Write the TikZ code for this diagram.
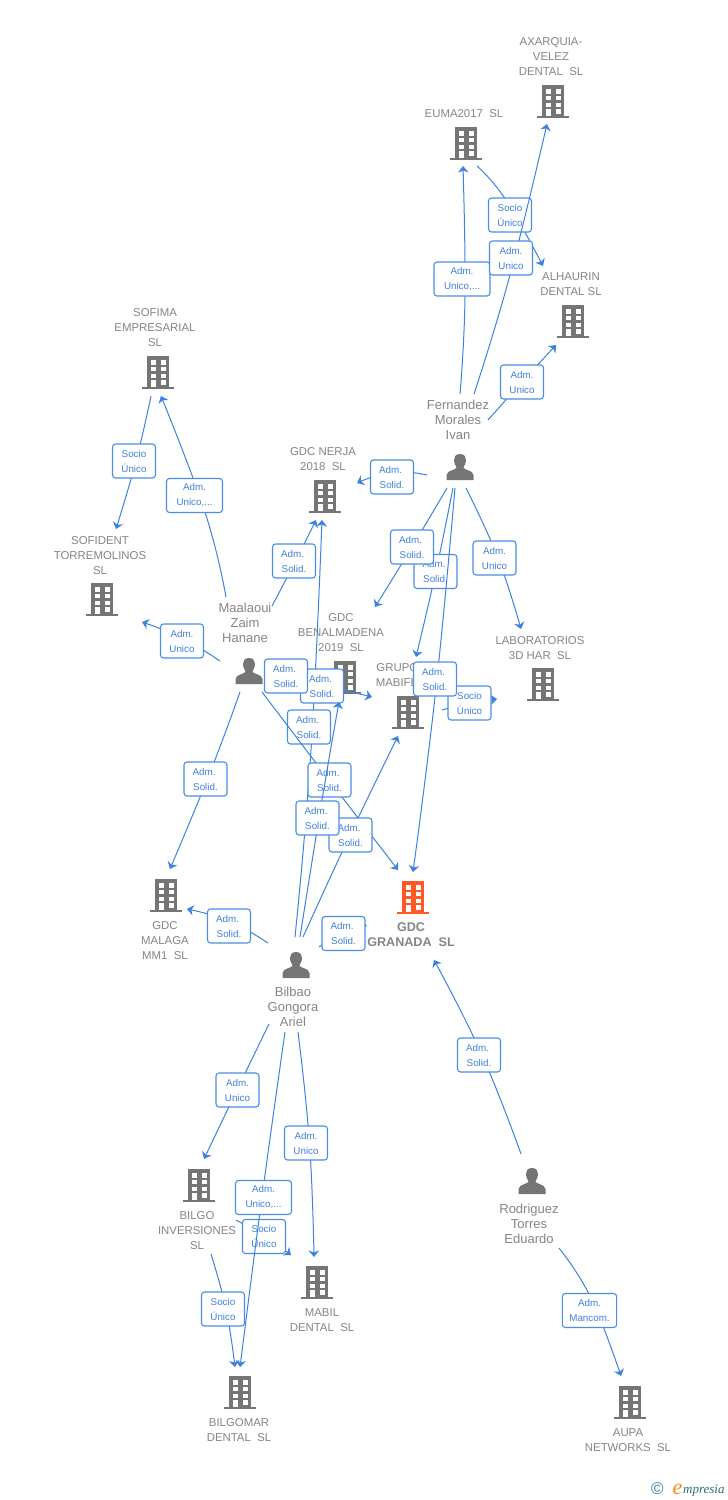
\documentclass[tikz,border=0pt]{standalone}
\usepackage{fontspec}
\setmainfont{Liberation Sans}
\newfontfamily\logofont{Liberation Serif}
\usetikzlibrary{arrows.meta,calc}
\definecolor{edgeblue}{HTML}{3D82E3}
\definecolor{boxblue}{HTML}{4A8CE6}
\definecolor{labblue}{HTML}{3F80DE}
\definecolor{icongray}{HTML}{757575}
\definecolor{txtgray}{HTML}{858585}
\definecolor{hotorange}{HTML}{FF5A26}
\definecolor{logoteal}{HTML}{3F7C96}
\definecolor{logodark}{HTML}{2F6B80}
\definecolor{logoorange}{HTML}{F58A1F}
\tikzset{
  edgeline/.style={draw=edgeblue,line width=1pt,-{Stealth[length=6.5pt,width=10.5pt,inset=2pt]}},
  lab/.style={draw=boxblue,line width=1.1pt,fill=white,rounded corners=3pt,text=labblue,align=center,
    font=\fontsize{9.8}{15}\selectfont,inner xsep=5pt,inner ysep=0pt,minimum width=43pt,minimum height=34pt},
  bname/.style={text=txtgray,align=center,inner sep=0pt,font=\fontsize{11.4}{15}\selectfont},
  pname/.style={text=txtgray,align=center,inner sep=0pt,font=\fontsize{13}{15}\selectfont},
  hname/.style={text=txtgray,align=center,inner sep=0pt,font=\fontsize{12.6}{15}\selectfont\bfseries},
  iconbox/.style={inner sep=0pt,minimum width=32pt,minimum height=33pt}
}
\newcommand{\AS}{Adm.\hspace*{2.8pt}\\Solid.}
\newcommand{\AU}{Adm.\\Unico}
\newcommand{\AUX}{Adm.\\\hspace*{5pt}Unico,...\hspace*{5pt}}
\newcommand{\SU}{Socio\\Único}
% name, x, y, colour
\newcommand{\bldg}[4]{%
  \node[iconbox] (#1) at (#2,#3) {};
  \begin{scope}[shift={(#2,#3)}]
    \fill[#4] (-11,-17) rectangle (11,13.5);
    \fill[#4] (-16,13.5) rectangle (16,16);
    \foreach \wy in {-13,-6.3,0.5}{
      \fill[white] (-6.7,\wy) rectangle (-1.7,\wy+4.5);
      \fill[white] (2.5,\wy) rectangle (7.5,\wy+4.5);
    }
    \fill[white] (-6.7,7) rectangle (-1.7,13.5);
    \fill[white] (2.5,7) rectangle (7.5,11.5);
  \end{scope}}
% name, x, y
\newcommand{\pers}[3]{%
  \node[iconbox,minimum width=28pt,minimum height=28pt] (#1) at (#2,#3) {};
  \begin{scope}[shift={(#2,#3)}]
    \fill[icongray] (0,-13) .. controls (4.5,-13) and (6,-10) .. (6,-7) .. controls (6,-3.5) and (4,-1) .. (3.5,0.5)
      .. controls (3.5,3) and (13,3) .. (13.5,8) -- (13.5,13) -- (-13.5,13) -- (-13.5,8)
      .. controls (-13,3) and (-3.5,3) .. (-3.5,0.5) .. controls (-4,-1) and (-6,-3.5) .. (-6,-7)
      .. controls (-6,-10) and (-4.5,-13) .. (0,-13) -- cycle;
  \end{scope}}
% src, offset, tgt, offset, via, label centre, text
\newcommand{\conn}[7]{%
  \coordinate (#1-#3-s) at ([shift={(#2)}]#1.center);
  \coordinate (#1-#3-e) at ([shift={(#4)}]#3.center);
  \coordinate (#1-#3-v) at (#5);
  \draw[edgeline] plot[smooth,tension=0.75] coordinates {(#1-#3-s) (#1-#3-v) (#1-#3-e)};
  \node[lab] (#1-#3-l) at (#6) {#7};}
\begin{document}
\begin{tikzpicture}[x=1pt,y=-1pt]
\useasboundingbox (0,0) rectangle (728,1500);
\fill[white] (0,0) rectangle (728,1500);
% companies
\bldg{axa}{553}{102}{icongray}
\bldg{eum}{466}{144}{icongray}
\bldg{alh}{573}{322}{icongray}
\bldg{sof}{158}{373}{icongray}
\bldg{ner}{325}{497}{icongray}
\bldg{sfd}{102}{600}{icongray}
\bldg{ben}{345}{678}{icongray}
\bldg{lab}{543}{685}{icongray}
\bldg{gru}{408}{713}{icongray}
\bldg{mal}{166}{896}{icongray}
\bldg{gra}{413}{898}{hotorange}
\bldg{bgo}{199}{1186}{icongray}
\bldg{mab}{317}{1283}{icongray}
\bldg{bgm}{240}{1393}{icongray}
\bldg{aup}{630}{1403}{icongray}
% people
\pers{fer}{460}{467}
\pers{maa}{249}{671}
\pers{bil}{296}{965}
\pers{rod}{532}{1181}
% names
\node[bname] (t-axa) at (551,57) {AXARQUIA-\\VELEZ\\DENTAL\ \ SL};
\node[bname] (t-eum) at (464,114) {EUMA2017\ \ SL};
\node[bname] (t-alh) at (571,284.5) {ALHAURIN\\DENTAL SL};
\node[bname] (t-sof) at (155,328) {SOFIMA\\EMPRESARIAL\\SL};
\node[bname] (t-ner) at (323,459.5) {GDC NERJA\\2018\ \ SL};
\node[bname] (t-sfd) at (100,556) {SOFIDENT\\TORREMOLINOS\\SL};
\node[bname] (t-ben) at (341,633) {GDC\\BENALMADENA\\2019\ \ SL};
\node[bname] (t-lab) at (540,648.5) {LABORATORIOS\\3D HAR\ \ SL};
\node[bname,align=right,anchor=east] (t-gru) at (418.5,675.5) {GRUPO\\MABIFE};
\node[bname] (t-mal) at (165,941) {GDC\\MALAGA\\MM1\ \ SL};
\node[hname] (t-gra) at (411,935) {GDC\\GRANADA\ \ SL};
\node[bname] (t-bgo) at (197,1231) {BILGO\\INVERSIONES\\SL};
\node[bname] (t-mab) at (322,1320.5) {MABIL\\DENTAL\ \ SL};
\node[bname] (t-bgm) at (239,1430.5) {BILGOMAR\\DENTAL\ \ SL};
\node[bname] (t-aup) at (628,1440.5) {AUPA\\NETWORKS\ \ SL};
\node[pname] (t-fer) at (458,419.7) {Fernandez\\Morales\\Ivan};
\node[pname] (t-maa) at (245,622.7) {Maalaoui\\Zaim\\Hanane};
\node[pname] (t-bil) at (293,1006.7) {Bilbao\\Gongora\\Ariel};
\node[pname] (t-rod) at (529,1223.7) {Rodriguez\\Torres\\Eduardo};
% connectors
\conn{eum}{11,22}{alh}{-30,-56}{506,200}{510,215}{\SU}
\conn{fer}{0,-73}{eum}{-3,22}{465,297}{462,279}{\AUX}
\conn{fer}{14,-73}{axa}{-6,22}{510,275}{511,258}{\AU}
\conn{fer}{28,-47}{alh}{-17,23}{522,382}{522,382}{\AU}
\conn{fer}{-33,8}{ner}{32,-14}{392,472}{392,477}{\AS}
\conn{fer}{-7,21}{gru}{8,-56}{436,571}{435.5,571.5}{\AS}
\conn{fer}{-13,21}{ben}{30,-71}{412,547}{412,547}{\AS}
\conn{fer}{6,21}{lab}{-22,-56}{498,558}{494.5,558}{\AU}
\conn{gru}{34,-3}{lab}{-46,14}{470,703}{469.5,703}{\SU}
\conn{fer}{-5,21}{gra}{0,-26}{436,688}{435,679}{\AS}
\conn{maa}{-23,-74}{sof}{3,23}{205.3,513}{194.5,495.5}{\AUX}
\conn{sof}{-7,23}{sfd}{14,-71}{136,461}{134,461}{\SU}
\conn{maa}{23,-65}{ner}{-9,23}{295,562}{294,561}{\AS}
\conn{maa}{-29,-10}{sfd}{40,22}{182,638}{182,641}{\AU}
\conn{maa}{-9,21}{mal}{4,-27}{211,770}{205.5,779}{\AS}
\conn{bil}{-1,-28}{ner}{-3,23}{311,750}{309,727}{\AS}
\conn{maa}{13,21}{gra}{-15,-28}{329,780}{329.5,780}{\AS}
\conn{maa}{21,9}{gru}{-36,-16}{322,686}{322,686}{\AS}
\conn{bil}{7,-28}{gru}{-10,23}{350,835}{350.5,835}{\AS}
\conn{bil}{4,-28}{ben}{-6,24}{322,800}{317.5,818}{\AS}
\conn{maa}{16,4}{ben}{-39,0}{286,676}{286,676}{\AS}
\conn{bil}{-28,-22}{mal}{21,13}{229,921}{229,926}{\AS}
\conn{bil}{23,-18}{gra}{-46,27}{343,933}{343.5,933.5}{\AS}
\conn{bil}{-27,59}{bgo}{5,-27}{237,1090}{237.5,1090}{\AU}
\conn{bil}{2,67}{mab}{-3,-26}{309.5,1143}{306,1143}{\AU}
\conn{bgo}{37,34}{mab}{-26,-28}{264,1236}{264,1236.5}{\SU}
\conn{bil}{-11,67}{bgm}{0,-26}{262,1197}{263.5,1197.5}{\AUX}
\conn{bgo}{12,68}{bgm}{-5,-26}{226,1309}{223,1309}{\SU}
\conn{rod}{-11,-27}{gra}{21,62}{482,1055}{479,1055}{\AS}
\conn{rod}{27,67}{aup}{-9,-27}{591,1298}{589.5,1310.5}{Adm.\\\hspace*{2pt}Mancom.\hspace*{2pt}}
% logo
\node[text=logoteal,inner sep=0pt,font=\fontsize{17}{17}\selectfont] (copy) at (657.5,1489) {©};
\node[text=logoorange,inner sep=0pt,font=\logofont\itshape\fontsize{22}{22}\selectfont] (logoe) at (677.5,1489.5) {e};
\node[text=logodark,inner sep=0pt,anchor=base west,font=\logofont\itshape\fontsize{13}{13}\selectfont] (logot) at (683,1493) {mpresia};
\end{tikzpicture}
\end{document}
